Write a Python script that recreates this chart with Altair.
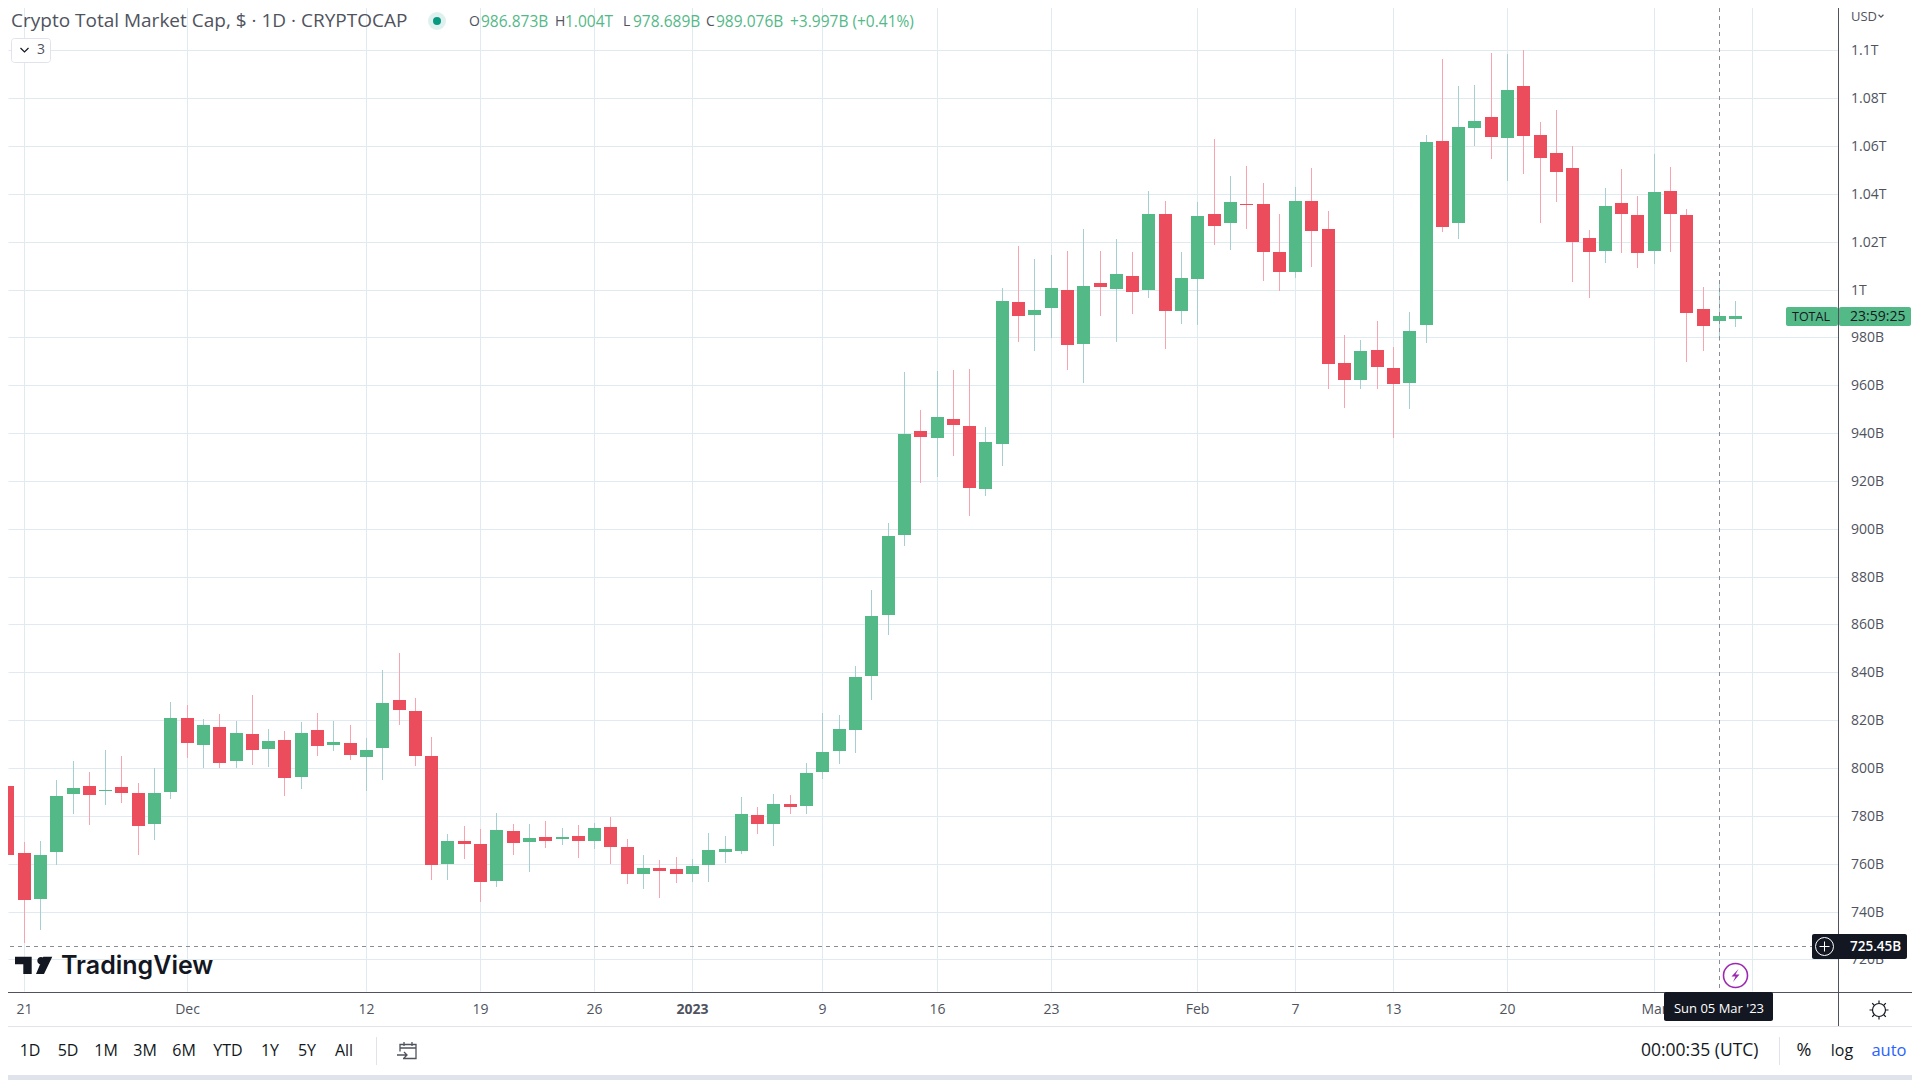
import altair as alt
import pandas as pd

# ---- data (USD billions), one candle per day from 20 Nov 2022 ----
opens = [792.5,764.5,745.3,764.9,789.2,792.5,790.4,792.1,789.6,776.6,790.0,820.9,809.6,817.2,802.9,814.2,808.0,811.7,796.3,815.9,809.6,810.5,804.6,808.4,828.4,823.8,805.0,759.9,769.5,768.3,752.8,773.7,769.1,771.2,770.4,771.6,769.5,775.4,767.0,755.7,758.2,757.8,755.7,759.5,764.9,765.3,780.4,776.6,785.0,784.1,798.4,807.1,815.9,838.3,863.8,897.3,940.8,937.9,945.8,942.9,916.6,935.4,994.7,989.3,992.2,999.7,977.2,1002.7,1000.1,1005.6,1000.0,1031.4,991.1,1004.4,1031.6,1027.8,1035.8,1035.8,1015.7,1007.4,1037.0,1025.3,969.3,962.2,974.7,967.2,960.9,985.2,1062.1,1027.8,1067.5,1072.1,1063.4,1085.1,1064.6,1057.1,1050.8,1021.6,1016.1,1036.2,1031.2,1016.1,1041.2,1031.2,991.9,986.873,987.7]
closes = [763.7,744.9,763.7,788.3,791.7,788.7,790.8,789.6,775.8,789.6,820.9,810.5,818.0,802.1,814.7,807.5,811.3,795.8,814.7,809.2,810.9,805.5,807.5,827.2,824.3,805.0,759.5,769.5,768.3,752.4,774.1,768.7,770.8,769.5,771.2,769.5,774.9,767.0,755.7,758.2,757.0,755.7,759.1,765.8,766.2,780.8,776.6,785.0,783.7,797.9,806.7,816.3,838.0,863.4,896.8,939.5,938.3,946.7,943.3,917.0,936.2,995.1,988.9,991.4,1000.6,976.7,1001.4,1001.0,1006.4,998.9,1031.4,991.0,1004.9,1030.8,1026.6,1036.6,1035.4,1015.7,1007.4,1037.0,1024.5,968.9,962.2,974.3,967.6,960.5,982.6,1061.7,1026.2,1068.0,1070.5,1063.8,1083.4,1064.2,1055.0,1049.2,1019.9,1015.7,1035.0,1031.6,1015.3,1040.8,1031.6,990.2,984.8,989.076,989.0]
highs = [797.5,769.1,769.5,795.0,802.9,798.4,807.5,805.0,793.8,800.0,827.6,826.4,820.5,822.6,819.7,830.5,816.3,815.5,819.2,823.0,819.7,818.0,812.6,841.0,848.1,829.3,813.0,772.4,775.8,774.5,781.2,776.6,776.6,777.9,774.9,776.2,777.0,779.5,770.4,763.7,761.6,762.8,762.0,772.9,771.6,787.9,783.7,789.2,788.7,802.1,823.0,822.2,842.6,874.2,902.6,965.5,949.6,965.9,966.3,966.7,942.5,1000.6,1018.1,1012.7,1014.4,1016.3,1025.5,1016.3,1021.3,1015.5,1041.0,1036.8,1015.7,1036.6,1062.9,1047.5,1051.7,1044.6,1031.6,1042.9,1050.8,1032.9,981.0,978.9,986.8,976.0,990.6,1064.6,1096.4,1085.1,1085.5,1098.9,1098.5,1100.1,1070.1,1075.1,1060.0,1024.9,1042.5,1050.4,1039.1,1056.7,1051.2,1033.7,1001.1,1004.0,995.2]
lows = [758.2,726.9,732.3,759.5,780.8,776.2,784.6,785.4,763.7,769.9,787.1,804.2,800.0,800.0,800.0,801.3,800.4,788.3,791.2,805.0,807.1,803.4,790.4,795.0,818.0,800.9,753.2,753.2,762.0,744.0,750.3,763.7,756.6,766.6,767.8,762.4,766.2,759.9,751.5,749.5,745.7,752.0,752.4,752.4,760.3,764.1,772.4,767.4,780.8,780.8,795.4,801.7,806.3,828.3,855.4,892.6,919.1,921.6,930.4,905.3,913.6,926.2,978.0,974.2,979.7,966.3,960.9,988.9,978.0,989.7,996.4,975.1,985.6,985.2,1018.7,1016.6,1025.3,1003.6,999.4,1004.9,1009.5,958.4,950.5,958.4,958.4,937.9,950.0,977.6,1024.1,1021.2,1060.0,1054.6,1045.4,1048.3,1027.8,1036.6,1003.2,996.5,1011.1,1015.3,1009.0,1010.7,1015.7,969.8,974.4,978.689,984.4]
dates = pd.date_range("2022-11-20", periods=len(opens), freq="D").strftime("%Y-%m-%d").tolist()
assert len(opens) == len(closes) == len(highs) == len(lows) == 107

tick_dates = ["2022-11-21","2022-12-01","2022-12-12","2022-12-19","2022-12-26","2023-01-01","2023-01-09","2023-01-16","2023-01-23","2023-02-01","2023-02-07","2023-02-13","2023-02-20","2023-03-01","2023-03-07"]
tick_labels = ["21","Dec","12","19","26","2023","9","16","23","Feb","7","13","20","Mar",""]
price_ticks = [720,740,760,780,800,820,840,860,880,900,920,940,960,980,1000,1020,1040,1060,1080,1100]
range_buttons = ["1D","5D","1M","3M","6M","YTD","1Y","5Y","All"]
range_x = [30,68,106,145,184,228,270,307,344]
cross_date = ["2023-03-05"]
cross_price = [725.45]

FONT = "Open Sans"
UP, DOWN = "#53B987", "#EB4D5C"
UP_W, DOWN_W = "#A5CFD0", "#F7A3B0"
GRID = "#DFEAF1"
AXIS = "#50535E"
INK = "#131722"
SEP = "#E0E3EB"

df = pd.DataFrame({"date": dates, "o": opens, "c": closes, "h": highs, "l": lows})
df["top"] = df[["o", "c"]].max(axis=1)
df["bot"] = df[["o", "c"]].min(axis=1)
df["dir"] = ["up" if c >= o else "down" for o, c in zip(opens, closes)]

label_map = ",".join(f"'{d}':'{t}'" for d, t in zip(tick_dates, tick_labels))
x_scale = alt.Scale(type="utc", domain=["2022-11-19T23:25:00Z", "2023-03-12T05:53:00Z"], round=True, padding=0)
y_scale = alt.Scale(domain=[706.36, 1117.68], nice=False, zero=False, round=True)

x_axis = alt.Axis(
    values=tick_dates, title=None, grid=True, gridColor=GRID, gridWidth=1, ticks=False, domain=False,
    labelExpr="{" + label_map + "}[utcFormat(datum.value,'%Y-%m-%d')]",
    labelFont=FONT, labelFontSize=14, labelColor=AXIS, labelOverlap=False, labelFlush=False,
    labelBaseline="middle", labelPadding=18, translate=-0.5,
    labelFontWeight={"condition": {"test": "utcyear(datum.value)==2023 && utcmonth(datum.value)==0 && utcdate(datum.value)==1", "value": "bold"}, "value": "normal"},
)
y_axis = alt.Axis(
    values=price_ticks, title=None, orient="right", grid=True, gridColor=GRID, gridWidth=1, ticks=False, domain=False,
    labelExpr="datum.value>=1000 ? format(datum.value/1000,'~g')+'T' : datum.value+'B'",
    labelFont=FONT, labelFontSize=14, labelColor=AXIS, labelOverlap=False, labelBound=False, labelFlush=False,
    labelAlign="left", labelBaseline="middle", labelPadding=12.5,
)

X = alt.X("date:T", scale=x_scale, title=None)
base = alt.Chart(df)

wicks = base.mark_rule(strokeWidth=1, xOffset=-0.5).encode(
    x=alt.X("date:T", scale=x_scale, axis=x_axis, title=None),
    y=alt.Y("h:Q", scale=y_scale, axis=y_axis, title=None),
    y2="l:Q",
    stroke=alt.Stroke("dir:N", legend=None, scale=alt.Scale(domain=["up", "down"], range=[UP_W, DOWN_W])),
)
bodies = base.mark_bar(size=13, xOffset=-0.5).encode(
    x=X,
    y=alt.Y("top:Q", scale=y_scale, title=None),
    y2="bot:Q",
    fill=alt.Fill("dir:N", legend=None, scale=alt.Scale(domain=["up", "down"], range=[UP, DOWN])),
)
cross_v = alt.Chart(pd.DataFrame({"date": cross_date})).mark_rule(
    color="#8A8D96", strokeDash=[4, 4], strokeWidth=1, xOffset=-0.5
).encode(x=X)
cross_h = alt.Chart(pd.DataFrame({"p": cross_price})).mark_rule(
    color="#8A8D96", strokeDash=[4, 4], strokeWidth=1, yOffset=0.5
).encode(y=alt.Y("p:Q", scale=y_scale, title=None))


# ---- TradingView interface furniture, placed in page pixels ----
def one():
    return alt.Chart(pd.DataFrame({"a": [0]}))


def box(x0, y0, x1, y1, fill, radius=0, stroke=None):
    kw = dict(fill=fill, cornerRadius=radius)
    if stroke:
        kw.update(stroke=stroke, strokeWidth=1)
    return one().mark_rect(**kw).encode(
        x=alt.value(x0 - 8), x2=alt.value(x1 - 8), y=alt.value(y0 - 8), y2=alt.value(y1 - 8))


def hline(x0, x1, y, color, width=1):
    return one().mark_rule(color=color, strokeWidth=width).encode(
        x=alt.value(x0 - 8), x2=alt.value(x1 - 8), y=alt.value(y - 8))


def vline(x, y0, y1, color, width=1):
    return one().mark_rule(color=color, strokeWidth=width).encode(
        x=alt.value(x - 8), y=alt.value(y0 - 8), y2=alt.value(y1 - 8))


def txt(s, x, y, size=14, color=INK, align="left", weight="normal", font=FONT):
    return alt.Chart(pd.DataFrame({"t": [s]})).mark_text(
        align=align, baseline="middle", fontSize=size, color=color, fontWeight=weight, font=font
    ).encode(x=alt.value(x - 8), y=alt.value(y - 8), text="t:N")


def icon(path, x, y, stroke=None, fill=None, width=1.2, size=4):
    kw = dict(shape=path, size=size, opacity=1, strokeWidth=width)
    if fill:
        kw.update(filled=True, fill=fill)
    else:
        kw.update(filled=False)
    if stroke:
        kw.update(stroke=stroke)
    else:
        kw.update(strokeWidth=0)
    return one().mark_point(**kw).encode(x=alt.value(x - 8), y=alt.value(y - 8))


CHEV = "M-4,-2L0,2L4,-2"
LOGO = ("M-19,-9.3H-2.3V8H-10.7V-1.7H-19Z"
        "M10.7,-5.3A3.7,3.7 0 1 1 3.3,-5.3A3.7,3.7 0 1 1 10.7,-5.3Z"
        "M18.3,-9.3L10,8H2L9.3,-9.3Z")
SUN = ("M6.5,0A6.5,6.5 0 1 1 -6.5,0A6.5,6.5 0 1 1 6.5,0Z"
       "M0,-7V-9.5M0,7V9.5M-7,0H-9.5M7,0H9.5M-5,-5L-6.8,-6.8M5,-5L6.8,-6.8M-5,5L-6.8,6.8M5,5L6.8,6.8")
CAL = "M-7,1V-6H9V8H-4M-7,-2.5H9M-3,-8.5V-4.5M5,-8.5V-4.5M-10,4.5H0M-3,1.5L0,4.5L-3,7.5"
BOLT = "M3,-6.5L-4,1H0L-2.5,6.5L4,-1H0Z"
PLUS = "M-5,0H5M0,-5V5"

furniture = [
    # scale frames
    hline(0, 1920, 992.5, AXIS, 1),
    vline(1838.5, 0, 1026, AXIS, 1),
    hline(0, 1920, 1026.5, SEP, 1),
    box(0, 1075, 1920, 1080, SEP),
    vline(376.5, 1037, 1065, SEP),
    vline(1779.5, 1037, 1065, SEP),
    # header
    txt("Crypto Total Market Cap, $ · 1D · CRYPTOCAP", 11, 21, size=19, color="#50535E"),
    icon("circle", 437, 21, fill="#DFF1EE", size=324),
    icon("circle", 437, 21, fill="#089981", size=64),
    txt("O", 469, 22, color="#50535E", size=14),
    txt("986.873B", 481, 22, color=UP, size=15.5),
    txt("H", 555, 22, color="#50535E", size=14),
    txt("1.004T", 565, 22, color=UP, size=15.5),
    txt("L", 623, 22, color="#50535E", size=14),
    txt("978.689B", 633, 22, color=UP, size=15.5),
    txt("C", 706, 22, color="#50535E", size=14),
    txt("989.076B", 716, 22, color=UP, size=15.5),
    txt("+3.997B (+0.41%)", 790, 22, color=UP, size=15.5),
    box(11.5, 38.5, 50.5, 62.5, "white", radius=3, stroke=SEP),
    icon(CHEV, 24.5, 50, stroke=INK),
    txt("3", 37, 50, size=14, color="#50535E"),
    txt("USD", 1851, 17, size=13, color="#50535E"),
    icon(CHEV, 1881, 16, stroke="#50535E", size=1.5),
    # logo
    icon(LOGO, 34, 966, fill=INK),
    txt("TradingView", 61, 966, size=25, color=INK, weight=600, font="Inter"),
    # last price tag
    box(1786, 307, 1838, 326, UP, radius=2),
    box(1839, 307, 1911, 326, UP, radius=2),
    txt("TOTAL", 1792, 317, size=12.5, color=INK),
    txt("23:59:25", 1850, 317, size=14, color=INK),
    # crosshair tags
    box(1812, 934, 1907, 959, INK, radius=2),
    icon("circle", 1824.5, 946.5, fill=INK, stroke="white", width=1, size=324),
    icon(PLUS, 1824.5, 946.5, stroke="white", width=1),
    txt("725.45B", 1850, 947, size=13.5, color="white", weight=600),
    box(1664, 992, 1773, 1021, INK, radius=2),
    txt("Sun 05 Mar '23", 1719, 1009, size=13, color="white", align="center", weight=500),
    icon("circle", 1735.5, 975.5, fill="white", stroke="#9C27B0", width=1.6, size=576),
    icon(BOLT, 1735.5, 975.5, fill="#9C27B0"),
    icon(SUN, 1879, 1010, stroke=INK),
    # bottom bar
    icon(CAL, 407, 1050.5, stroke="#50535E", width=1.3),
    txt("00:00:35 (UTC)", 1641, 1051, size=17.5, color=INK),
    txt("%", 1804, 1051, size=18, color=INK, align="center"),
    txt("log", 1842, 1051, size=16, color=INK, align="center"),
    txt("auto", 1889, 1051, size=16.5, color="#2962FF", align="center"),
]
furniture += [txt(b, x, 1051, size=16, color=INK, align="center") for b, x in zip(range_buttons, range_x)]

chart = alt.layer(wicks, bodies, cross_v, cross_h, *furniture).resolve_scale(
    stroke="independent", fill="independent"
).properties(
    width=1830,
    height=984,
    background="white",
    autosize=alt.AutoSizeParams(type="none"),
    padding={"left": 0, "top": 0, "right": 74, "bottom": 88},
).configure_view(stroke=None)

chart.save("out.html", embed_options={"renderer": "svg", "actions": False})
